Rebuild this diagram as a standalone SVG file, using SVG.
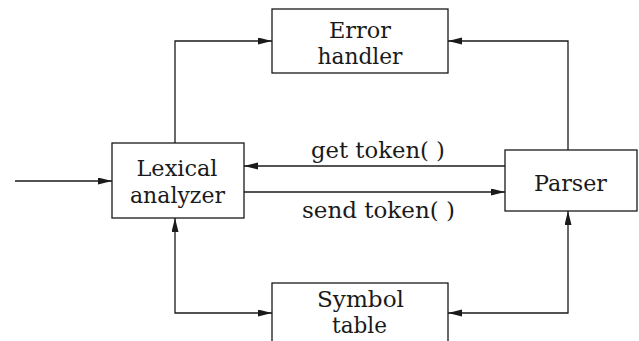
<svg xmlns="http://www.w3.org/2000/svg" width="639" height="341" viewBox="0 0 639 341">
  <defs>
    <marker id="arrow" markerUnits="userSpaceOnUse" markerWidth="14" markerHeight="8" refX="14" refY="3.5" orient="auto-start-reverse">
      <path d="M0,0 L14,3.5 L0,7 Z" fill="#1a1a1a"/>
    </marker>
  </defs>
  <style>
    .box { fill: #ffffff; stroke: #1a1a1a; stroke-width: 1.3; }
    .lbl { font-family: 'DejaVu Serif', 'Liberation Serif', serif; font-size: 23px; fill: #1a1a1a; text-anchor: middle; }
    .wire { fill: none; stroke: #1a1a1a; stroke-width: 1.3; }
  </style>
  <rect width="639" height="341" fill="#ffffff"/>

  <g id="connectors">
    <path class="wire" d="M15,181 H112" marker-end="url(#arrow)"/>
    <path class="wire" d="M175,143 V41 H272" marker-end="url(#arrow)"/>
    <path class="wire" d="M568,150 V41 H448" marker-end="url(#arrow)"/>
    <path class="wire" d="M505,166 H244" marker-end="url(#arrow)"/>
    <path class="wire" d="M244,192 H505" marker-end="url(#arrow)"/>
    <path class="wire" d="M175,218 V313 H272" marker-start="url(#arrow)" marker-end="url(#arrow)"/>
    <path class="wire" d="M568,211 V313 H448" marker-start="url(#arrow)" marker-end="url(#arrow)"/>
  </g>

  <g id="label-get">
    <text class="lbl" x="378" y="158" textLength="134" lengthAdjust="spacingAndGlyphs">get token( )</text>
  </g>
  <g id="label-send">
    <text class="lbl" x="378.5" y="218" textLength="153" lengthAdjust="spacingAndGlyphs">send token( )</text>
  </g>

  <g id="error-handler">
    <rect class="box" x="272" y="9" width="176" height="64"/>
    <text class="lbl" x="360" y="38" textLength="62" lengthAdjust="spacingAndGlyphs">Error</text>
    <text class="lbl" x="360" y="64" textLength="85" lengthAdjust="spacingAndGlyphs">handler</text>
  </g>

  <g id="lexical-analyzer">
    <rect class="box" x="112" y="143" width="132" height="75"/>
    <text class="lbl" x="177" y="176" textLength="81" lengthAdjust="spacingAndGlyphs">Lexical</text>
    <text class="lbl" x="177.5" y="203" textLength="95" lengthAdjust="spacingAndGlyphs">analyzer</text>
  </g>

  <g id="parser">
    <rect class="box" x="505" y="150" width="132" height="61"/>
    <text class="lbl" x="570.5" y="191" textLength="73" lengthAdjust="spacingAndGlyphs">Parser</text>
  </g>

  <g id="symbol-table">
    <rect class="box" x="272" y="283" width="176" height="70"/>
    <text class="lbl" x="360.5" y="307" textLength="87" lengthAdjust="spacingAndGlyphs">Symbol</text>
    <text class="lbl" x="359.5" y="333" textLength="55" lengthAdjust="spacingAndGlyphs">table</text>
  </g>
</svg>
